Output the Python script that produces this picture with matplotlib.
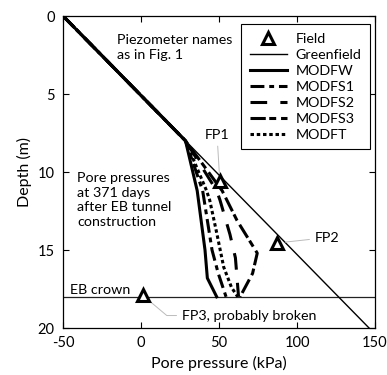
import matplotlib
matplotlib.use("Agg")
import matplotlib.pyplot as plt
import numpy as np

plt.rcParams['font.family'] = ['Lato', 'DejaVu Sans']
plt.rcParams['lines.scale_dashes'] = False
plt.rcParams['axes.unicode_minus'] = False

# Greenfield (hydrostatic) line
green_depth = [0, 20]
green_u = [-50, 146.2]

# Model results, depth (m) and pore pressure (kPa)
modfw_depth = [0, 8, 11.2, 15, 16.8, 18]
modfw_u = [-50, 28.5, 36, 41, 42.5, 48.5]

modfs1_depth = [0, 8, 11.2, 15, 16.5, 18]
modfs1_u = [-50, 28.5, 39.5, 45.5, 49.5, 54.5]

modfs2_depth = [0, 8, 11.2, 11.8, 14, 15.5, 18]
modfs2_u = [-50, 28.5, 48.5, 50.6, 57, 60.5, 62.5]

modfs3_depth = [0, 8, 11.2, 13.1, 15.2, 16.5, 18]
modfs3_u = [-50, 28.5, 52, 61.5, 74.5, 71.5, 63.5]

modft_depth = [0, 8, 11.2, 11.8, 13.9, 16.1, 17.4, 18]
modft_u = [-50, 28.5, 42, 44, 48.5, 53, 58, 62]

# Field piezometers
field_names = ['FP1', 'FP2', 'FP3']
field_depth = [10.6, 14.55, 17.9]
field_u = [50.5, 87.2, 1]

crown_depth = 18

fig = plt.figure(figsize=(3.87, 3.75), dpi=100)
ax = fig.add_axes([0.163, 0.1253, 0.806, 0.832])

ax.axhline(crown_depth, color='#222222', lw=0.9, zorder=1)
ax.plot(green_u, green_depth, color='black', lw=1.0, label='Greenfield', zorder=2)
ax.plot(modfw_u, modfw_depth, color='black', lw=2.2, label='MODFW', zorder=3)
ax.plot(modfs1_u, modfs1_depth, color='black', lw=2.2, ls=(0, (10, 3.5, 3.5, 3.5)),
        label='MODFS1', zorder=3)
ax.plot(modfs2_u, modfs2_depth, color='black', lw=2.2, ls=(0, (12, 9.5)),
        label='MODFS2', zorder=3)
ax.plot(modfs3_u, modfs3_depth, color='black', lw=2.2, ls=(0, (11, 2.5, 5, 3.5)),
        label='MODFS3', zorder=3)
ax.plot(modft_u, modft_depth, color='black', lw=2.2, ls=(0, (2.5, 2)),
        label='MODFT', zorder=3)
ax.plot(field_u, field_depth, ls='none', marker='^', ms=9, mew=2.2,
        mec='black', mfc='white', label='Field', zorder=5)

# leader lines to piezometer names
fs = 10.3
lead = dict(arrowstyle='-', color='#bbbbbb', lw=0.7, shrinkA=2, shrinkB=6)
ax.annotate(field_names[0], xy=(field_u[0], field_depth[0]), xytext=(48.7, 7.6),
            ha='center', va='center', fontsize=fs, arrowprops=lead)
ax.annotate(field_names[1], xy=(field_u[1], field_depth[1]), xytext=(111.5, 14.2),
            ha='left', va='center', fontsize=fs, arrowprops=lead)
ax.annotate(field_names[2] + ', probably broken', xy=(field_u[2], field_depth[2]),
            xytext=(26.3, 19.2), ha='left', va='center', fontsize=fs,
            arrowprops=dict(lead, connectionstyle='angle,angleA=0,angleB=-40'))

ax.text(-15.4, 2.0, 'Piezometer names\nas in Fig. 1', ha='left', va='center',
        fontsize=fs, linespacing=1.3)
ax.text(-41, 11.8, 'Pore pressures\nat 371 days\nafter EB tunnel\nconstruction',
        ha='left', va='center', fontsize=fs, linespacing=1.25)
ax.text(-45.5, 17.55, 'EB crown', ha='left', va='center', fontsize=fs)

ax.set_xlim(-50, 150)
ax.set_ylim(20, 0)
ax.set_xticks([-50, 0, 50, 100, 150])
ax.set_yticks([0, 5, 10, 15, 20])
ax.tick_params(direction='in', top=True, right=True, length=4, width=0.8,
               labelsize=10.5, pad=6)
for s in ax.spines.values():
    s.set_linewidth(0.9)
ax.set_xlabel('Pore pressure (kPa)', fontsize=11.5)
ax.set_ylabel('Depth (m)', fontsize=11.5)

handles, labels = ax.get_legend_handles_labels()
order = ['Field', 'Greenfield', 'MODFW', 'MODFS1', 'MODFS2', 'MODFS3', 'MODFT']
h = [handles[labels.index(n)] for n in order]
leg = ax.legend(h, order, loc='upper right', bbox_to_anchor=(0.984, 0.974),
                borderaxespad=0, fontsize=fs, handlelength=2.6,
                handletextpad=0.6, labelspacing=0.28, borderpad=0.6,
                numpoints=1, fancybox=False, framealpha=1, edgecolor='black')
leg.get_frame().set_linewidth(0.8)

fig.savefig('out.png', dpi=100)
